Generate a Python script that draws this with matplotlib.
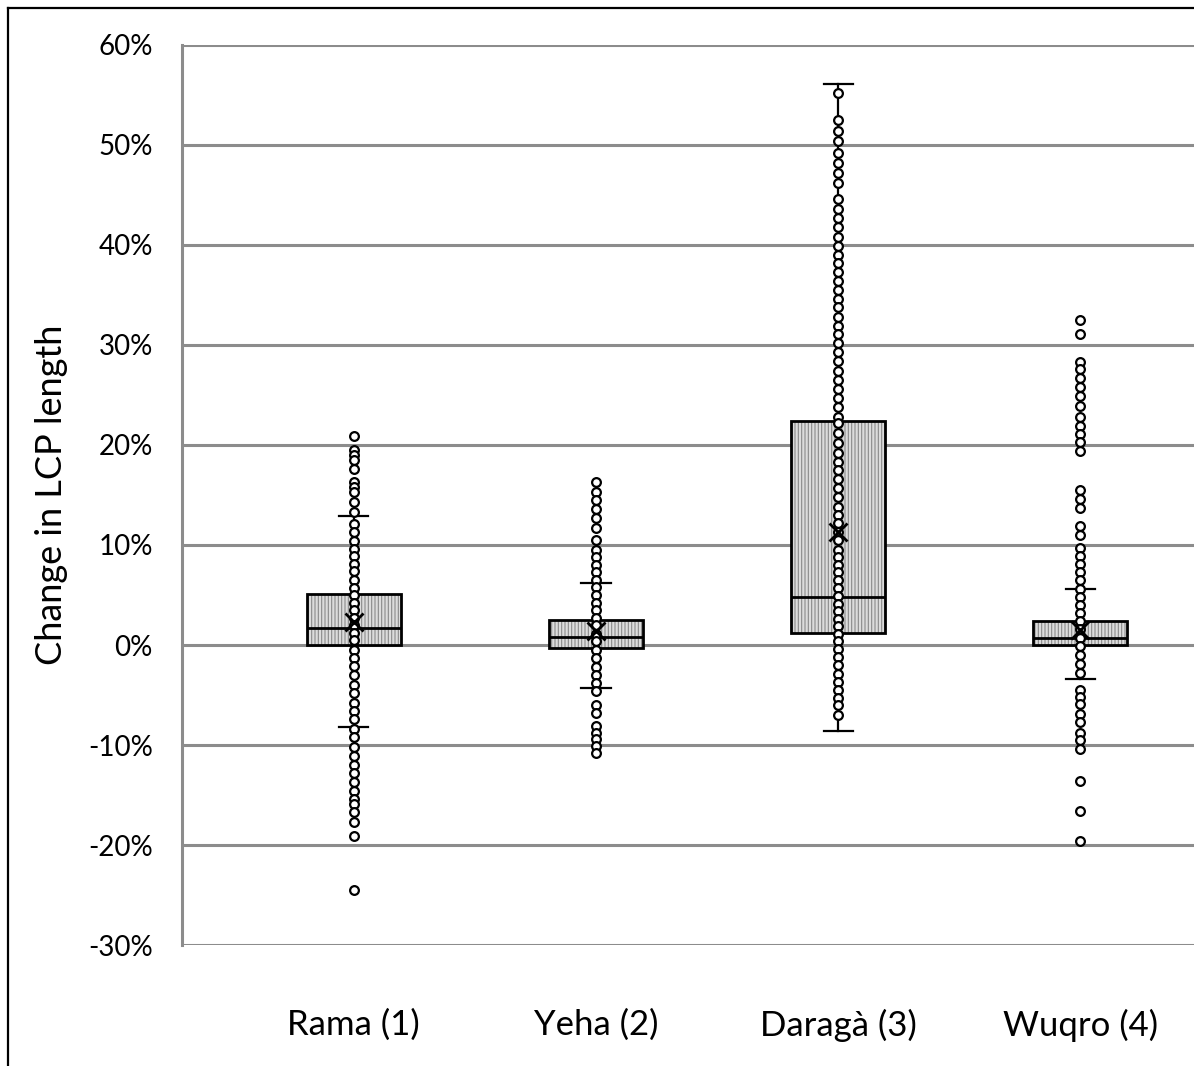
import matplotlib
matplotlib.use("Agg")
import matplotlib.pyplot as plt
from matplotlib.lines import Line2D

plt.rcParams['font.family'] = ['Lato', 'DejaVu Sans']
plt.rcParams['hatch.linewidth'] = 0.8

categories = ["Rama (1)", "Yeha (2)", "Daragà (3)", "Wuqro (4)"]

# box statistics (percent)
whisker_low = [-8.2, -4.3, -8.6, -3.4]
q1_vals = [0.0, -0.3, 1.2, 0.0]
median_vals = [1.7, 0.8, 4.8, 0.7]
q3_vals = [5.1, 2.5, 22.4, 2.4]
whisker_high = [12.9, 6.2, 56.1, 5.6]
mean_vals = [2.3, 1.4, 11.3, 1.5]

# individual points (percent)
rama_points = [20.9, 19.5, 19.0, 18.5, 17.6, 16.3, 15.8, 15.3, 14.3, 13.3, 12.1, 11.3, 10.4,
               9.6, 8.9, 8.1, 7.4, 6.5, 5.7, 5.0, 4.2, 3.5, 2.7, 2.0, 1.2, 0.5,
               -0.5, -1.3, -2.1, -3.0, -4.0, -4.8, -5.8, -6.6, -7.4, -8.4, -9.2,
               -10.2, -11.1, -12.0, -12.8, -13.7, -14.6, -15.4, -15.9, -16.7, -17.7, -19.1,
               -24.5]
yeha_points = [16.3, 15.3, 14.5, 13.6, 12.7, 11.7, 10.5, 9.5, 8.8, 8.0, 7.3, 6.5, 5.8, 5.0,
               4.2, 3.5, 2.7, 2.0, 1.1, 0.4, -0.5, -1.3, -2.2, -3.0, -3.8, -4.6,
               -6.0, -6.8, -8.1, -8.8, -9.4, -10.1, -10.8]
daraga_points = [55.2, 52.5, 51.4, 50.4, 49.2, 48.2, 47.2, 46.2, 44.6, 43.6, 42.7, 41.8, 40.8,
                 39.9, 39.0, 38.2, 37.3, 36.4, 35.5, 34.6, 33.8, 32.8, 31.9, 31.1, 30.2,
                 29.3, 28.4, 27.4, 26.5, 25.6, 24.7, 23.8, 22.8, 22.2, 21.2, 20.2,
                 19.2, 18.3, 17.5, 16.6, 15.7, 14.8, 13.8, 13.0, 12.2, 11.3, 10.5,
                 9.5, 8.8, 8.0, 7.3, 6.5, 5.7, 4.9, 4.1, 3.4, 2.6, 1.9, 1.1, 0.4,
                 -0.4, -1.2, -2.0, -2.9, -3.7, -4.5, -5.3, -6.0, -7.0]
wuqro_points = [32.5, 31.1, 28.3, 27.6, 26.7, 25.8, 24.9, 23.9, 22.8, 21.9, 21.1, 20.3, 19.4,
                15.5, 14.6, 13.7, 11.9, 11.0,
                9.7, 8.9, 8.1, 7.3, 6.5, 5.6, 4.8, 4.0, 3.2, 2.4, 1.6, 0.7, -0.1,
                -1.0, -1.9, -2.8, -4.5, -5.2, -5.9, -6.9, -7.7, -8.8, -9.5, -10.4,
                -13.6, -16.6, -19.6]
points = [rama_points, yeha_points, daraga_points, wuqro_points]

y_ticks = [-30, -20, -10, 0, 10, 20, 30, 40, 50, 60]

fig = plt.figure(figsize=(11.94, 10.66), dpi=100)
ax = fig.add_axes([0.1524, 0.1135, 0.8476, 0.8443])

positions = [1, 2, 3, 4]
stats = []
for i in range(4):
    stats.append(dict(whislo=whisker_low[i], q1=q1_vals[i], med=median_vals[i],
                      q3=q3_vals[i], whishi=whisker_high[i], mean=mean_vals[i], fliers=[]))

for y in y_ticks:
    ax.axhline(y, color='#8c8c8c', lw=2.2, zorder=0.5)

# hatched fill
ax.bxp(stats, positions=positions, widths=0.39, patch_artist=True, showcaps=False,
       boxprops=dict(facecolor='#dcdcdc', edgecolor='#8a8a8a', hatch='|||||', linewidth=0),
       whiskerprops=dict(linewidth=0), medianprops=dict(linewidth=0),
       showfliers=False, zorder=1)
# outlines, whiskers, caps, median
ax.bxp(stats, positions=positions, widths=0.39, patch_artist=True,
       boxprops=dict(facecolor='none', edgecolor='black', linewidth=2.0),
       whiskerprops=dict(color='black', linewidth=1.6),
       capprops=dict(color='black', linewidth=1.6), capwidths=0.12,
       medianprops=dict(color='black', linewidth=2.0),
       showfliers=False, zorder=2)

for pos, pts in zip(positions, points):
    ax.plot([pos] * len(pts), pts, linestyle='none', marker='o', markersize=6.3,
            markerfacecolor='white', markeredgecolor='black', markeredgewidth=1.6, zorder=3)

ax.plot(positions, mean_vals, linestyle='none', marker='x', markersize=13,
        markeredgecolor='black', markeredgewidth=2.0, zorder=4)

ax.set_xlim(0.29, 4.47)
ax.set_ylim(-30, 60)
ax.set_yticks(y_ticks)
ax.set_yticklabels([f"{v}%" for v in y_ticks])
ax.set_xticks(positions)
ax.set_xticklabels(categories)
ax.tick_params(axis='y', length=0, pad=21, labelsize=20)
ax.tick_params(axis='x', length=0, pad=46, labelsize=25)
for s in ['top', 'right', 'bottom']:
    ax.spines[s].set_visible(False)
ax.spines['left'].set_color('#8c8c8c')
ax.spines['left'].set_linewidth(2.2)
ax.set_facecolor('none')

ax.set_ylabel("Change in LCP length", fontsize=26, labelpad=14)

# figure border (left and top)
fig.add_artist(Line2D([0.0067, 0.0067], [0.0, 0.9925], color='black', lw=1.6, transform=fig.transFigure))
fig.add_artist(Line2D([0.0067, 1.0], [0.9925, 0.9925], color='black', lw=1.6, transform=fig.transFigure))

fig.savefig("out.png", dpi=100)
